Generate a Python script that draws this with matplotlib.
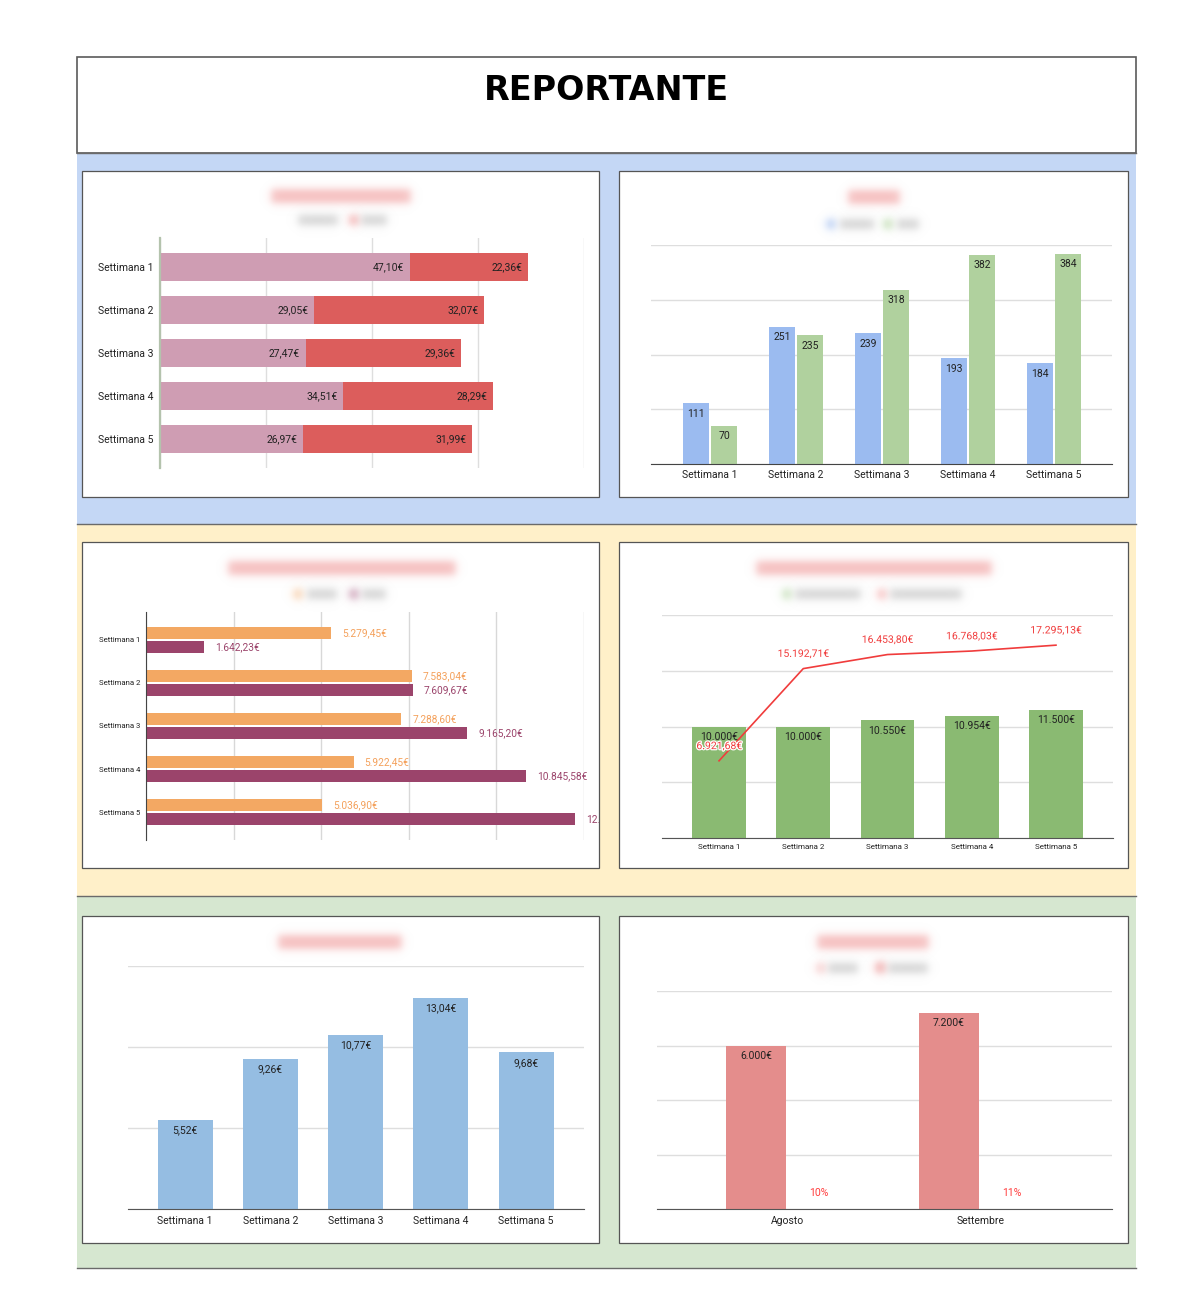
import numpy as np
import matplotlib
matplotlib.use("Agg")
import matplotlib.pyplot as plt
from matplotlib.patches import Rectangle
from matplotlib.transforms import Bbox
import matplotlib.patheffects as pe

plt.rcParams['font.family'] = ['Roboto', 'DejaVu Sans']

# ---------------- data ----------------
weeks = ['Settimana 1', 'Settimana 2', 'Settimana 3', 'Settimana 4', 'Settimana 5']
c1_a = [47.10, 29.05, 27.47, 34.51, 26.97]
c1_b = [22.36, 32.07, 29.36, 28.29, 31.99]
c2_a = [111, 251, 239, 193, 184]
c2_b = [70, 235, 318, 382, 384]
c3_a = [5279.45, 7583.04, 7288.60, 5922.45, 5036.90]
c3_b = [1642.23, 7609.67, 9165.20, 10845.58, 12243.00]
c4_bar = [10000, 10000, 10550, 10954, 11500]
c4_line = [6921.68, 15192.71, 16453.80, 16768.03, 17295.13]
c5 = [5.52, 9.26, 10.77, 13.04, 9.68]
months = ['Agosto', 'Settembre']
c6_val = [6000, 7200]
c6_pct = [10, 11]
title = 'REPORTANTE'

W, H = 1191, 1310
fig = plt.figure(figsize=(W / 100, H / 100), dpi=100)
fig.patch.set_facecolor('white')


def eur(v, dec=2):
    s = f"{v:,.{dec}f}"
    s = s.replace(',', 'X').replace('.', ',').replace('X', '.')
    return s + '€'


def axes_px(x0, y0, x1, y1):
    return fig.add_axes([x0 / W, 1 - y1 / H, (x1 - x0) / W, (y1 - y0) / H])


bg = fig.add_axes([0, 0, 1, 1])
bg.set_xlim(0, W)
bg.set_ylim(H, 0)
bg.axis('off')

# header
bg.add_patch(Rectangle((77, 57), 1059, 96, fc='white', ec='#5a5a5a', lw=1.2))
bg.text(606, 90, title, ha='center', va='center', fontsize=24, fontweight='bold',
        family=['DejaVu Sans'], color='black')
# sections
for (y0, y1, col) in [(153, 524, '#c4d7f5'), (524, 896, '#fff0c9'), (896, 1268, '#d6e7d0')]:
    bg.add_patch(Rectangle((77, y0), 1059, y1 - y0, fc=col, ec='none'))
for yy in [153, 524, 896, 1268]:
    bg.plot([77, 1136], [yy, yy], color='#6a6a6a', lw=1.0)

panels = [(82, 171, 599, 497), (619, 171, 1128, 497),
          (82, 542, 599, 868), (619, 542, 1128, 868),
          (82, 916, 599, 1243), (619, 916, 1128, 1243)]
for (x0, y0, x1, y1) in panels:
    bg.add_patch(Rectangle((x0, y0), x1 - x0, y1 - y0, fc='white', ec='#555555', lw=0.9))


def blob(cx, cy, w, h, color, amax=0.8, s=5.0):
    pad = 14
    x0, x1 = cx - w / 2 - pad, cx + w / 2 + pad
    y0, y1 = cy - h / 2 - pad, cy + h / 2 + pad
    nx, ny = int(x1 - x0), int(y1 - y0)
    xs = np.linspace(x0, x1, nx)
    ys = np.linspace(y0, y1, ny)
    ax_ = 0.5 * (np.tanh((xs - (cx - w / 2)) / s) - np.tanh((xs - (cx + w / 2)) / s))
    ay_ = 0.5 * (np.tanh((ys - (cy - h / 2)) / s) - np.tanh((ys - (cy + h / 2)) / s))
    a = np.outer(ay_, ax_) * amax
    rgb = matplotlib.colors.to_rgb(color)
    img = np.zeros((ny, nx, 4))
    img[..., 0], img[..., 1], img[..., 2] = rgb
    img[..., 3] = a
    bg.imshow(img, extent=(x0, x1, y1, y0), zorder=5, interpolation='bilinear', aspect='auto')


PINK = '#f3adad'
GREY = '#c8c8c8'
# blurred titles and legends
blob(341, 196, 140, 14, PINK)
blob(318, 220, 40, 10, GREY); blob(354, 220, 10, 10, '#f2a0a0'); blob(374, 220, 26, 10, GREY)
blob(874, 197, 52, 14, PINK)
blob(831, 224, 10, 10, '#a9c4f2'); blob(857, 224, 34, 10, GREY); blob(888, 224, 10, 10, '#b9d9a9'); blob(908, 224, 22, 10, GREY)
blob(342, 568, 228, 14, PINK)
blob(298, 594, 10, 10, '#f8c9a0'); blob(322, 594, 30, 10, GREY); blob(354, 594, 10, 10, '#c08aa5'); blob(374, 594, 24, 10, GREY)
blob(874, 568, 236, 14, PINK)
blob(787, 594, 10, 10, '#bfdcb0'); blob(828, 594, 66, 10, GREY); blob(882, 594, 10, 10, '#f7b3b3'); blob(926, 594, 72, 10, GREY)
blob(340, 942, 124, 14, PINK)
blob(873, 942, 112, 14, PINK)
blob(821, 968, 10, 10, '#f7c3c3'); blob(843, 968, 30, 10, GREY); blob(880, 968, 11, 11, '#ef9a9a'); blob(908, 968, 40, 10, GREY)
bg.set_xlim(0, W)
bg.set_ylim(H, 0)

FS = 7.5


def style(ax, grid_axis='y'):
    for sp in ax.spines.values():
        sp.set_visible(False)
    ax.set_axisbelow(True)
    ax.tick_params(length=0)
    ax.grid(axis=grid_axis, color='#dedede', lw=1.0)


# ---------- chart 1: stacked horizontal bars ----------
ax1 = axes_px(160, 238, 584, 468)
y = np.arange(len(weeks))
ax1.barh(y, c1_a, height=0.65, color='#cf9db3')
ax1.barh(y, c1_b, left=c1_a, height=0.65, color='#dc5d5c')
ax1.set_xlim(0, 80)
ax1.set_ylim(4.674, -0.674)
style(ax1, 'x')
ax1.spines['left'].set_visible(True)
ax1.spines['left'].set_color('#b4c3ad')
ax1.spines['left'].set_linewidth(1.6)
ax1.set_xticks([0, 20, 40, 60, 80])
ax1.set_xticklabels([])
ax1.set_yticks(y)
ax1.set_yticklabels(weeks, fontsize=FS, color='#222222')
ax1.tick_params(axis='y', pad=5)
for i in range(5):
    ax1.annotate(eur(c1_a[i]).replace('.', ''), (c1_a[i], i), xytext=(-4, 0), textcoords='offset points',
                 ha='right', va='center', fontsize=FS, color='#222222')
    ax1.annotate(eur(c1_b[i]).replace('.', ''), (c1_a[i] + c1_b[i], i), xytext=(-4, 0), textcoords='offset points',
                 ha='right', va='center', fontsize=FS, color='#222222')

# ---------- chart 2: grouped vertical bars ----------
ax2 = axes_px(651, 245, 1112, 464)
x = np.arange(len(weeks))
ax2.bar(x - 0.163, c2_a, width=0.31, color='#9bbbf0')
ax2.bar(x + 0.163, c2_b, width=0.31, color='#b0d19e')
ax2.set_xlim(-0.686, 4.674)
ax2.set_ylim(0, 400)
style(ax2, 'y')
ax2.spines['bottom'].set_visible(True)
ax2.spines['bottom'].set_color('#444444')
ax2.set_yticks([0, 100, 200, 300, 400])
ax2.set_yticklabels([])
ax2.set_xticks(x)
ax2.set_xticklabels(weeks, fontsize=FS, color='#222222')
ax2.tick_params(axis='x', pad=4)
for i in range(5):
    ax2.annotate(str(c2_a[i]), (x[i] - 0.163, c2_a[i]), xytext=(0, -4), textcoords='offset points',
                 ha='center', va='top', fontsize=FS, color='#222222')
    ax2.annotate(str(c2_b[i]), (x[i] + 0.163, c2_b[i]), xytext=(0, -4), textcoords='offset points',
                 ha='center', va='top', fontsize=FS, color='#222222')

# ---------- chart 3: grouped horizontal bars ----------
ax3 = axes_px(146, 612, 584, 840)
ax3.barh(y - 0.163, c3_a, height=0.29, color='#f3a863')
ax3.barh(y + 0.163, c3_b, height=0.29, color='#9b446b')
ax3.set_xlim(0, 12500)
ax3.set_ylim(4.651, -0.651)
style(ax3, 'x')
ax3.grid(axis='x', color='#d8d8d8', lw=1.0)
ax3.spines['left'].set_visible(True)
ax3.spines['left'].set_color('#444444')
ax3.set_xticks([0, 2500, 5000, 7500, 10000, 12500])
ax3.set_xticklabels([])
ax3.set_yticks(y)
ax3.set_yticklabels(weeks, fontsize=5.6, color='#222222')
ax3.tick_params(axis='y', pad=4)
clipbox = Bbox([[82, H - 868], [599, H - 542]])
for i in range(5):
    t1 = ax3.annotate(eur(c3_a[i]), (c3_a[i], i - 0.163), xytext=(8, 0), textcoords='offset points',
                      ha='left', va='center', fontsize=7.3, color='#f4a15c', annotation_clip=False)
    t2 = ax3.annotate(eur(c3_b[i]), (c3_b[i], i + 0.163), xytext=(8, 0), textcoords='offset points',
                      ha='left', va='center', fontsize=7.3, color='#9b446b', annotation_clip=False)
    for t in (t1, t2):
        t.set_clip_on(True)
        t.set_clip_box(clipbox)

# ---------- chart 4: bars + line ----------
ax4 = axes_px(662, 615, 1113, 838)
ax4.bar(x, c4_bar, width=0.64, color='#8aba72')
ax4.plot(x, c4_line, color='#f03c3c', lw=1.2, zorder=3)
ax4.set_xlim(-0.677, 4.677)
ax4.set_ylim(0, 20000)
style(ax4, 'y')
ax4.spines['bottom'].set_visible(True)
ax4.spines['bottom'].set_color('#555555')
ax4.set_yticks([0, 5000, 10000, 15000, 20000])
ax4.set_yticklabels([])
ax4.set_xticks(x)
ax4.set_xticklabels(weeks, fontsize=5.8, color='#222222')
ax4.tick_params(axis='x', pad=4)
for i in range(5):
    ax4.annotate(eur(c4_bar[i], 0), (x[i], c4_bar[i]), xytext=(0, -4), textcoords='offset points',
                 ha='center', va='top', fontsize=FS, color='#222222', zorder=4)
    ax4.annotate(eur(c4_line[i]), (x[i], c4_line[i]), xytext=(0, 7), textcoords='offset points',
                 ha='center', va='bottom', fontsize=FS, color='#f03c3c', zorder=5,
                 path_effects=[pe.withStroke(linewidth=1.8, foreground='white')])

# ---------- chart 5: single bars ----------
ax5 = axes_px(128, 966, 584, 1209)
ax5.bar(x, c5, width=0.645, color='#95bde2')
ax5.set_xlim(-0.669, 4.679)
ax5.set_ylim(0, 15)
style(ax5, 'y')
ax5.spines['bottom'].set_visible(True)
ax5.spines['bottom'].set_color('#555555')
ax5.set_yticks([0, 5, 10, 15])
ax5.set_yticklabels([])
ax5.set_xticks(x)
ax5.set_xticklabels(weeks, fontsize=FS, color='#222222')
ax5.tick_params(axis='x', pad=5)
for i in range(5):
    ax5.annotate(eur(c5[i]), (x[i], c5[i]), xytext=(0, -4), textcoords='offset points',
                 ha='center', va='top', fontsize=FS, color='#222222')

# ---------- chart 6: months ----------
ax6 = axes_px(657, 991, 1112, 1209)
xm = np.arange(len(months))
ax6.bar(xm - 0.166, c6_val, width=0.311, color='#e48d8c')
ax6.bar(xm + 0.16, [p / 100 for p in c6_pct], width=0.311, color='#ff4d4d')
ax6.set_xlim(-0.679, 1.679)
ax6.set_ylim(0, 8000)
style(ax6, 'y')
ax6.spines['bottom'].set_visible(True)
ax6.spines['bottom'].set_color('#555555')
ax6.set_yticks([0, 2000, 4000, 6000, 8000])
ax6.set_yticklabels([])
ax6.set_xticks(xm)
ax6.set_xticklabels(months, fontsize=FS, color='#222222')
ax6.tick_params(axis='x', pad=5)
for i in range(2):
    ax6.annotate(eur(c6_val[i], 0), (xm[i] - 0.166, c6_val[i]), xytext=(0, -4), textcoords='offset points',
                 ha='center', va='top', fontsize=FS, color='#222222')
    ax6.annotate(f"{c6_pct[i]}%", (xm[i] + 0.16, 0), xytext=(0, 8), textcoords='offset points',
                 ha='center', va='bottom', fontsize=FS, color='#ff3b3b')

fig.savefig('out.png', dpi=100)
